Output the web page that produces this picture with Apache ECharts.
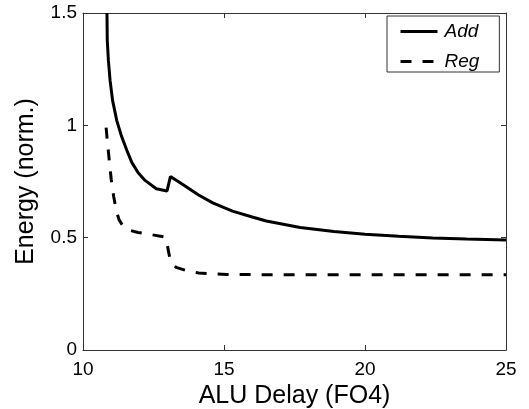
<!DOCTYPE html>
<html>
<head>
<meta charset="utf-8">
<script src="https://cdn.jsdelivr.net/npm/echarts@6/dist/echarts.min.js"></script>
<style>
  html, body { margin: 0; padding: 0; background: #fff; }
  #chart { width: 529px; height: 409px; }
</style>
</head>
<body>
<div id="chart"></div>
<script>
// ALU delay (FO4) on x, normalised energy on y
const addDelay  = [10.85, 10.86, 10.90, 10.96, 11.05, 11.20, 11.37, 11.55, 11.73, 11.95, 12.20, 12.60, 12.98, 13.10, 13.50, 14.10, 14.60, 15.30, 16.00, 16.50, 17.70, 18.90, 20.00, 21.20, 22.40, 23.60, 25.00];
const addEnergy = [1.50, 1.38, 1.29, 1.20, 1.11, 1.02, 0.95, 0.89, 0.835, 0.790, 0.755, 0.718, 0.708, 0.772, 0.740, 0.690, 0.655, 0.618, 0.592, 0.574, 0.545, 0.527, 0.515, 0.506, 0.498, 0.494, 0.490];

const regDelay  = [10.82, 10.87, 10.93, 11.00, 11.09, 11.18, 11.28, 11.42, 11.62, 11.95, 12.30, 12.91, 13.00, 13.08, 13.18, 13.30, 13.65, 14.10, 15.10, 17.00, 20.00, 25.00];
const regEnergy = [0.99, 0.92, 0.846, 0.76, 0.682, 0.62, 0.579, 0.552, 0.534, 0.523, 0.516, 0.503, 0.460, 0.408, 0.382, 0.368, 0.354, 0.343, 0.336, 0.335, 0.335, 0.335];

const xTicks = [10, 15, 20, 25];
const yTicks = [0, 0.5, 1, 1.5];

const pairs = (xs, ys) => xs.map((x, i) => [x, ys[i]]);

const font = 'Liberation Sans, Helvetica, Arial, sans-serif';
const axisColor = '#333';

const frameAxis = (extra) => Object.assign({
  type: 'value',
  axisLine: { show: true, onZero: false, lineStyle: { color: axisColor, width: 1 } },
  axisTick: { show: true, inside: true, length: 5, lineStyle: { color: axisColor } },
  splitLine: { show: false }
}, extra);

const chart = echarts.init(document.getElementById('chart'), null, { renderer: 'canvas' });

chart.setOption({
  animation: false,
  backgroundColor: '#fff',
  grid: { left: 83, right: 23, top: 13, bottom: 59, containLabel: false, outerBoundsMode: 'none' },
  xAxis: [
    frameAxis({
      min: xTicks[0], max: xTicks[xTicks.length - 1], interval: 5,
      position: 'bottom',
      name: 'ALU Delay (FO4)', nameLocation: 'middle', nameGap: 27,
      nameTextStyle: { fontFamily: font, fontSize: 25, color: '#000' },
      axisLabel: { fontFamily: font, fontSize: 19, color: '#000', margin: 10 }
    }),
    frameAxis({
      min: xTicks[0], max: xTicks[xTicks.length - 1], interval: 5,
      position: 'top', axisLabel: { show: false }
    })
  ],
  yAxis: [
    frameAxis({
      min: yTicks[0], max: yTicks[yTicks.length - 1], interval: 0.5,
      position: 'left',
      name: 'Energy (norm.)', nameLocation: 'middle', nameGap: 44,
      nameTextStyle: { fontFamily: font, fontSize: 25, color: '#000' },
      axisLabel: { fontFamily: font, fontSize: 19, color: '#000', margin: 6,
                   formatter: v => String(v) }
    }),
    frameAxis({
      min: yTicks[0], max: yTicks[yTicks.length - 1], interval: 0.5,
      position: 'right', axisLabel: { show: false }
    })
  ],
  legend: {
    orient: 'vertical',
    left: 387, top: 16,
    padding: [6, 20, 1, 12],
    itemWidth: 37, itemHeight: 18, itemGap: 11,
    backgroundColor: '#fff',
    borderColor: axisColor, borderWidth: 1, borderRadius: 0,
    itemStyle: { opacity: 0 },
    lineStyle: { width: 3 },
    textStyle: { fontFamily: font, fontSize: 19, fontStyle: 'italic', color: '#000', lineHeight: 18, padding: [0, 0, 0, 2] },
    data: ['Add', 'Reg']
  },
  series: [
    {
      name: 'Add', type: 'line', xAxisIndex: 0, yAxisIndex: 0,
      data: pairs(addDelay, addEnergy),
      showSymbol: false, symbol: 'none', smooth: false, clip: true,
      lineStyle: { color: '#000', width: 3, type: 'solid' },
      itemStyle: { color: '#000' }
    },
    {
      name: 'Reg', type: 'line', xAxisIndex: 0, yAxisIndex: 0,
      data: pairs(regDelay, regEnergy),
      showSymbol: false, symbol: 'none', smooth: false, clip: true,
      lineStyle: { color: '#000', width: 3, type: [11, 11] },
      itemStyle: { color: '#000' }
    }
  ]
});
</script>
</body>
</html>
